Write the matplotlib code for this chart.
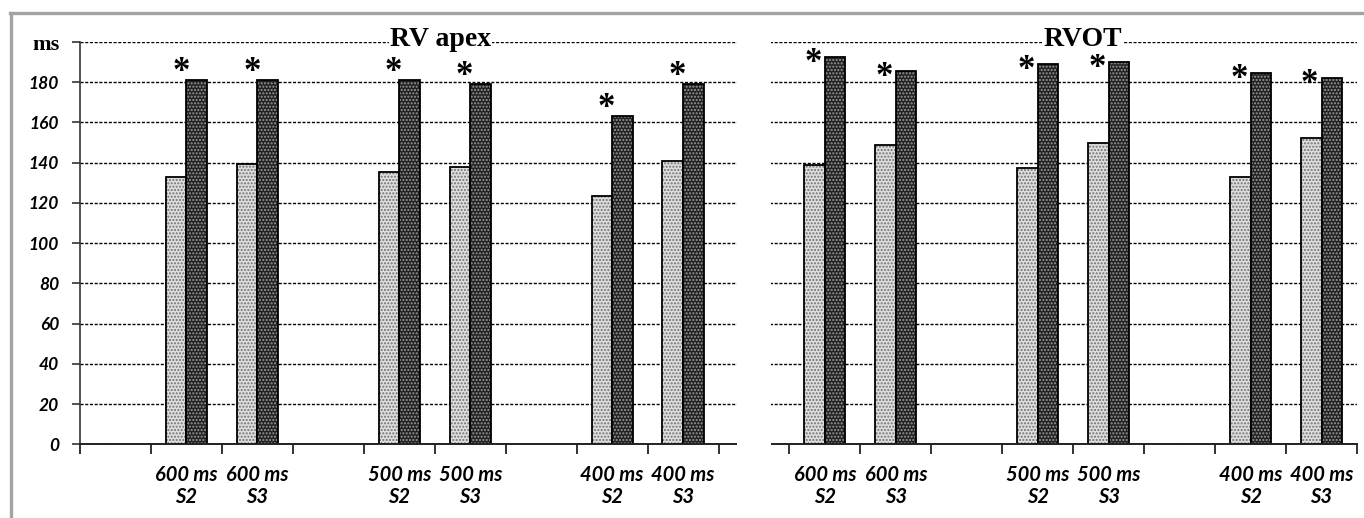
import numpy as np
import matplotlib
matplotlib.use("Agg")
import matplotlib.pyplot as plt
from matplotlib.patches import Rectangle
from matplotlib.lines import Line2D
from matplotlib.colors import to_rgba

# ---------------- data ----------------
categories = ["", "600 ms\nS2", "600 ms\nS3", "", "500 ms\nS2", "500 ms\nS3", "", "400 ms\nS2", "400 ms\nS3",
              "", "600 ms\nS2", "600 ms\nS3", "", "500 ms\nS2", "500 ms\nS3", "", "400 ms\nS2", "400 ms\nS3"]
panel_titles = ["RV apex", "RVOT"]
# values for the 6 filled categories of each panel (in order)
rv_apex_light = [133, 139.5, 135.5, 138, 123.5, 141]
rv_apex_dark = [181, 181, 181, 179, 163, 179]
rvot_light = [139, 149, 137.5, 150, 133, 152.5]
rvot_dark = [192.5, 185.5, 189, 190, 184.5, 182]
yticks = [0, 20, 40, 60, 80, 100, 120, 140, 160, 180, 200]
ytick_labels = ["0", "20", "40", "60", "80", "100", "120", "140", "160", "180", "ms"]
star = "*"

# ---------------- figure ----------------
W, H = 1364, 518
fig = plt.figure(figsize=(W / 100, H / 100), dpi=100)
fig.patch.set_facecolor("white")
ax = fig.add_axes([80 / W, (H - 444.3) / H, (1357 - 80) / W, (444.3 - 42) / H])

filled = [i for i, c in enumerate(categories) if c]
left_idx, right_idx = filled[:6], filled[6:]
light_vals = rv_apex_light + rvot_light
dark_vals = rv_apex_dark + rvot_dark
xs = np.array(left_idx + right_idx, dtype=float)

bw = 0.29
light = ax.bar(xs - bw / 2, light_vals, width=bw, facecolor="#dedede", edgecolor="black",
               linewidth=1.3, hatch=".....", zorder=2)
dark = ax.bar(xs + bw / 2, dark_vals, width=bw, facecolor="#222222", edgecolor="black",
              linewidth=1.3, hatch=".....", zorder=2)
for p in light:
    p._hatch_color = to_rgba("#707070")
for p in dark:
    p._hatch_color = to_rgba("#9a9a9a")

# significance stars
for k, (x, v) in enumerate(zip(xs, dark_vals)):
    off = (-4, -0.5) if k < 6 else (-8.5, -11)
    ax.annotate(star, xy=(x, v), xytext=off, textcoords="offset points",
                ha="center", va="baseline", fontsize=25, fontweight="bold",
                family="Liberation Serif", zorder=5)

# axes styling
ax.set_xlim(-0.5, len(categories) - 0.5)
ax.set_ylim(0, 200)
ax.set_axisbelow(True)
for s in ["top", "right"]:
    ax.spines[s].set_visible(False)
ax.spines["left"].set_linewidth(1.2)
ax.spines["left"].set_color("#333333")
ax.spines["bottom"].set_linewidth(1.4)
ax.spines["bottom"].set_color("#222222")

ax.yaxis.grid(True, color="black", linestyle=(0, (2.2, 1.2)), linewidth=1.0)
ax.set_yticks(yticks, labels=ytick_labels)
ax.tick_params(axis="y", direction="out", length=6, width=1.2, pad=9, color="#333333")
for t in ax.get_yticklabels():
    t.set_fontfamily("Lato")
    t.set_fontweight("bold")
    t.set_fontstyle("italic")
    t.set_fontsize(12.5)
ms_lab = ax.get_yticklabels()[-1]
ms_lab.set_fontfamily("Liberation Serif")
ms_lab.set_fontstyle("normal")
ms_lab.set_fontsize(16)

ax.set_xticks(np.arange(len(categories)), labels=categories)
ax.set_xticks(np.arange(len(categories) + 1) - 0.5, minor=True)
ax.tick_params(axis="x", which="major", length=0, pad=15)
ax.tick_params(axis="x", which="minor", direction="out", length=7, width=1.3, color="#222222")
for t in ax.get_xticklabels():
    t.set_fontfamily("Lato")
    t.set_fontweight("bold")
    t.set_fontstyle("italic")
    t.set_fontsize(14.5)
    t.set_linespacing(1.1)

# white gap between the two panels (blank separator category)
sep = [i for i, c in enumerate(categories) if not c][3]
ax.add_patch(Rectangle((sep - 0.235, -2), 0.47, 203, facecolor="white", edgecolor="none",
                       zorder=3, clip_on=False))

# panel titles
for tx, title in zip([4.58, 13.63], panel_titles):
    ax.text(tx, 201, title, ha="center", va="center", fontsize=20, fontweight="bold",
            family="Liberation Serif", zorder=6,
            bbox=dict(facecolor="white", edgecolor="none", pad=1.0))

# grey frame (cropped at right and bottom)
fig.add_artist(Line2D([11 / W, 11 / W], [0, 1 - 13 / H], color="#a3a3a3", lw=2.4))
fig.add_artist(Line2D([9.5 / W, 1], [1 - 13 / H, 1 - 13 / H], color="#a3a3a3", lw=2.4))

fig.savefig("out.png", dpi=100, facecolor="white")
